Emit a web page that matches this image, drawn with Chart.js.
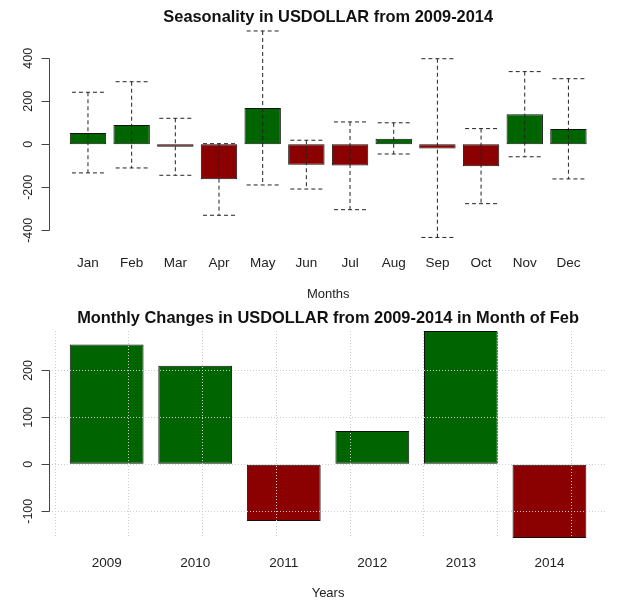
<!DOCTYPE html>
<html lang="en">
<head>
<meta charset="UTF-8" />
<title>Seasonality in USDOLLAR</title>
<style>
  body { margin: 0; background: #fff; }
  canvas { display: block; }
</style>
</head>
<body>
<canvas id="season" width="624" height="300"></canvas>
<canvas id="feb" width="624" height="300"></canvas>
<script src="https://cdn.jsdelivr.net/npm/chart.js"></script>
<script>
  // top: average monthly change with whiskers
  const months = ['Jan', 'Feb', 'Mar', 'Apr', 'May', 'Jun', 'Jul', 'Aug', 'Sep', 'Oct', 'Nov', 'Dec'];
  const avgChange = [52, 90, -11, -163, 169, -95, -99, 26, -19, -102, 140, 71];
  const upperWhisker = [242, 291, 121, 3, 527, 19, 104, 100, 398, 73, 338, 305];
  const lowerWhisker = [-133, -110, -144, -330, -189, -208, -304, -45, -433, -276, -58, -161];
  const seasonTicks = [-400, -200, 0, 200, 400];

  // bottom: february change per year
  const years = ['2009', '2010', '2011', '2012', '2013', '2014'];
  const febChange = [255, 210, -121, 71, 284, -157];
  const febTicks = [-100, 0, 100, 200];

  const GREEN = '#006400';
  const RED = '#8b0000';
  const FONT = "'Liberation Sans', Arial, sans-serif";

  // barplot layout: bar i centred at 0.7 + 1.2*i, width 1, xlim padded 4%
  const barX = i => 0.7 + 1.2 * i;
  function barLimits(n) {
    const lo = 0.2, hi = 1.2 * n, pad = (hi - lo) * 0.04;
    return [lo - pad, hi + pad];
  }

  const rStyle = {
    id: 'rStyle',
    afterDraw(chart, args, o) {
      const { ctx, chartArea: a, scales: { x, y } } = chart;
      ctx.save();
      ctx.fillStyle = '#111';
      ctx.textAlign = 'center';
      ctx.textBaseline = 'alphabetic';
      ctx.font = 'bold 16.4px ' + FONT;
      ctx.fillText(o.title, (a.left + a.right) / 2, o.titleY);

      // y axis only over the tick range, like R
      const ax = Math.floor(a.left) + 0.5;
      const top = y.getPixelForValue(Math.max(...o.yTicks));
      const bot = y.getPixelForValue(Math.min(...o.yTicks));
      ctx.strokeStyle = '#444';
      ctx.lineWidth = 1;
      ctx.beginPath();
      ctx.moveTo(ax, Math.round(top) + 0.5);
      ctx.lineTo(ax, Math.round(bot) + 0.5);
      o.yTicks.forEach(v => {
        const py = Math.round(y.getPixelForValue(v)) + 0.5;
        ctx.moveTo(ax - 8, py);
        ctx.lineTo(ax, py);
      });
      ctx.stroke();

      ctx.fillStyle = '#222';
      ctx.font = '12.5px ' + FONT;
      o.yTicks.forEach(v => {
        ctx.save();
        ctx.translate(31.5, y.getPixelForValue(v));
        ctx.rotate(-Math.PI / 2);
        ctx.fillText(String(v), 0, 0);
        ctx.restore();
      });

      ctx.font = '13.5px ' + FONT;
      o.labels.forEach((lab, i) => {
        ctx.fillText(lab, x.getPixelForValue(barX(i)), o.labelY);
      });
      ctx.font = '13px ' + FONT;
      ctx.fillText(o.xTitle, (a.left + a.right) / 2, o.xTitleY);
      ctx.restore();
    }
  };

  function centerTicks(n) {
    return scale => { scale.ticks = Array.from({ length: n }, (_, i) => ({ value: barX(i) })); };
  }

  const hidden = {
    display: true,
    offset: false,
    ticks: { display: false },
    grid: { display: false, drawTicks: false, offset: false },
    border: { display: false }
  };

  // ---------- seasonality chart ----------
  const seasonLim = barLimits(months.length);
  const stems = [];
  const caps = [];
  const capHalf = 0.44;
  months.forEach((m, i) => {
    const c = barX(i);
    stems.push({ x: c, y: upperWhisker[i] }, { x: c, y: lowerWhisker[i] }, { x: c, y: null });
    caps.push({ x: c - capHalf, y: upperWhisker[i] }, { x: c + capHalf, y: upperWhisker[i] }, { x: c, y: null });
    caps.push({ x: c - capHalf, y: lowerWhisker[i] }, { x: c + capHalf, y: lowerWhisker[i] }, { x: c, y: null });
  });

  new Chart(document.getElementById('season'), {
    type: 'bar',
    data: {
      datasets: [
        {
          type: 'line',
          data: stems,
          borderColor: '#222',
          borderWidth: 1,
          borderDash: [4, 3],
          pointRadius: 0,
          fill: false,
          spanGaps: false,
          order: 0
        },
        {
          type: 'line',
          data: caps,
          borderColor: '#222',
          borderWidth: 1,
          borderDash: [4, 3],
          pointRadius: 0,
          fill: false,
          spanGaps: false,
          order: 0
        },
        {
          data: avgChange.map((v, i) => ({ x: barX(i), y: v })),
          backgroundColor: avgChange.map(v => v >= 0 ? GREEN : RED),
          borderColor: '#111',
          borderWidth: 1,
          borderSkipped: false,
          barPercentage: 1 / 1.2,
          categoryPercentage: 1,
          order: 1
        }
      ]
    },
    options: {
      responsive: false,
      animation: false,
      layout: { padding: { left: 49.1, right: 16.7, top: 22.8, bottom: 54.4 } },
      plugins: {
        legend: { display: false },
        tooltip: { enabled: false },
        rStyle: {
          title: 'Seasonality in USDOLLAR from 2009-2014',
          titleY: 22,
          yTicks: seasonTicks,
          labels: months,
          labelY: 266.5,
          xTitle: 'Months',
          xTitleY: 297.5
        }
      },
      scales: {
        x: Object.assign({}, hidden, {
          type: 'linear', min: seasonLim[0], max: seasonLim[1],
          afterBuildTicks: centerTicks(months.length)
        }),
        y: Object.assign({}, hidden, { type: 'linear', min: -471, max: 565 })
      }
    },
    plugins: [rStyle]
  });

  // ---------- february chart ----------
  const febLim = barLimits(years.length);
  const gridX = Array.from({ length: 8 }, (_, i) => i);

  new Chart(document.getElementById('feb'), {
    type: 'bar',
    data: {
      datasets: [{
        data: febChange.map((v, i) => ({ x: barX(i), y: v })),
        backgroundColor: febChange.map(v => v >= 0 ? GREEN : RED),
        borderColor: '#111',
        borderWidth: 1,
        borderSkipped: false,
        barPercentage: 1 / 1.2,
        categoryPercentage: 1
      }]
    },
    options: {
      responsive: false,
      animation: false,
      layout: { padding: { left: 49.1, right: 17, top: 31, bottom: 62 } },
      plugins: {
        legend: { display: false },
        tooltip: { enabled: false },
        rStyle: {
          title: 'Monthly Changes in USDOLLAR from 2009-2014 in Month of Feb',
          titleY: 22.7,
          yTicks: febTicks,
          labels: years,
          labelY: 266.7,
          xTitle: 'Years',
          xTitleY: 297
        }
      },
      scales: {
        x: Object.assign({}, hidden, {
          type: 'linear', min: febLim[0], max: febLim[1],
          afterBuildTicks: centerTicks(years.length)
        }),
        // grid drawn over the bars, as R's grid() does
        xg: {
          axis: 'x',
          type: 'linear',
          position: 'bottom',
          min: febLim[0],
          max: febLim[1],
          offset: false,
          afterBuildTicks: s => { s.ticks = gridX.map(v => ({ value: v })); },
          ticks: { display: false },
          grid: { color: '#cccccc', drawTicks: false, offset: false, z: 1 },
          border: { display: false, dash: [1, 2] }
        },
        y: {
          type: 'linear',
          min: -157,
          max: 284,
          afterBuildTicks: s => { s.ticks = febTicks.map(v => ({ value: v })); },
          ticks: { display: false },
          grid: { color: '#cccccc', drawTicks: false, z: 1 },
          border: { display: false, dash: [1, 2] }
        }
      }
    },
    plugins: [rStyle]
  });
</script>
</body>
</html>
